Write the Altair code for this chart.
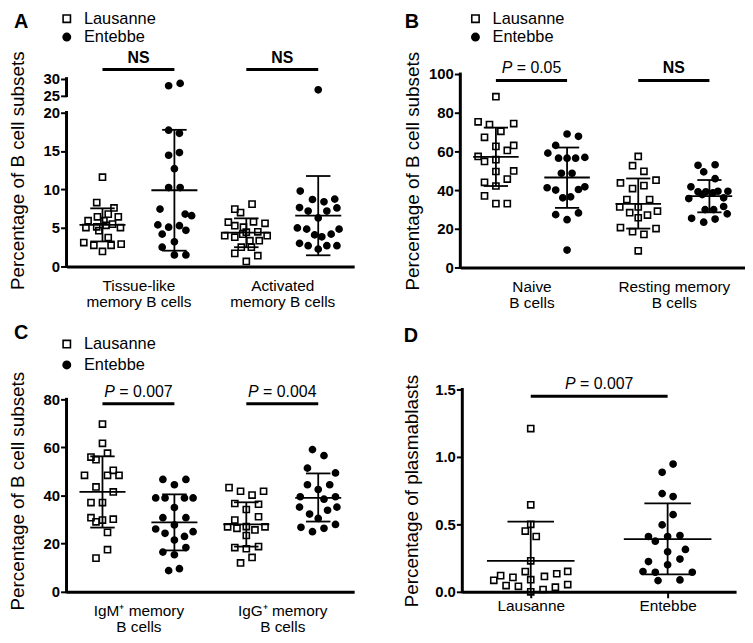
import altair as alt
import pandas as pd

FONT = "Liberation Sans"
SITES = ["Lausanne", "Entebbe"]
MEAN_HW = 0.32
CAP_HW = 0.17

# ---------------- Panel A ----------------
A_pos = [0.5, 1.5, 2.5, 3.5]
A_site = ["Lausanne", "Entebbe", "Lausanne", "Entebbe"]
A_tl_lau = [11.6, 8.3, 7.6, 6.8, 6.45, 6.45, 5.95, 5.95, 5.05, 5.15, 5.35, 5.05, 4.65, 3.75, 3.1, 2.75, 2.75, 2.9, 1.95, 5.5]
A_tl_lau_j = [0.0, -0.08, 0.16, 0.08, -0.07, 0.22, -0.2, 0.02, -0.23, -0.08, 0.05, 0.25, -0.05, 0.08, -0.26, -0.12, 0.12, 0.26, 0.0, 0.14]
A_tl_ent = [28.6, 27.9, 17.7, 17.3, 14.45, 14.8, 12.7, 10.25, 10.25, 7.45, 6.8, 6.6, 5.4, 5.1, 5.3, 4.7, 4.2, 3.2, 2.5, 1.5, 1.5]
A_tl_ent_j = [0.08, -0.08, -0.08, 0.07, -0.08, 0.07, 0.0, -0.08, 0.08, -0.2, 0.15, 0.24, -0.23, -0.08, 0.07, 0.16, -0.17, 0.0, -0.17, 0.0, 0.16]
A_ac_lau = [8.1, 7.45, 7.0, 5.75, 5.8, 5.6, 5.3, 5.1, 4.45, 4.5, 4.0, 3.8, 4.0, 4.2, 3.35, 3.35, 2.5, 2.5, 1.7, 1.4, 0.65]
A_ac_lau_j = [0.08, -0.16, -0.08, -0.25, 0.1, 0.26, -0.16, -0.04, 0.0, 0.16, -0.3, -0.16, 0.29, -0.05, 0.05, 0.18, -0.07, 0.07, -0.16, 0.16, 0.0]
A_ac_ent = [26.7, 9.8, 8.7, 8.4, 8.75, 7.65, 7.2, 7.2, 7.6, 6.3, 5.0, 4.85, 4.1, 3.85, 4.2, 4.85, 3.0, 2.7, 2.25, 2.7, 2.7]
A_ac_ent_j = [0.0, -0.25, -0.08, 0.08, 0.23, -0.26, -0.14, 0.12, 0.26, 0.0, -0.29, -0.16, -0.05, 0.05, 0.18, 0.29, -0.26, -0.14, 0.0, 0.12, 0.26]
A_mean = [5.4, 9.9, 4.4, 6.6]
A_lo = [3.25, 2.05, 2.5, 1.45]
A_hi = [7.55, 17.75, 6.25, 11.75]
A_xlab_pos = [1, 3]
A_xlab = [["Tissue-like", "memory B cells"], ["Activated", "memory B cells"]]
A_sig_from, A_sig_to, A_sig_y, A_sig_txt = [0, 2], [1, 3], [32.7, 32.7], ["NS", "NS"]
A_yticks = [0, 5, 10, 15, 20, 25, 30]
A_yseg = [(0, 20), (25, 30)]

# ---------------- Panel B ----------------
B_pos = [0.5, 1.5, 2.5, 3.5]
B_site = ["Lausanne", "Entebbe", "Lausanne", "Entebbe"]
B_nv_lau = [88.3, 75.3, 73.9, 74.4, 70.4, 67.3, 62.6, 63.1, 60.5, 57.4, 54.8, 55.7, 49.6, 49.9, 45.7, 44.0, 42.1, 37.0, 33.0, 33.0]
B_nv_lau_j = [0.0, -0.25, -0.09, 0.25, 0.07, -0.16, 0.0, 0.25, 0.16, -0.25, -0.16, 0.0, 0.0, 0.25, 0.16, -0.16, 0.0, -0.16, 0.0, 0.16]
B_nv_ent = [69.0, 67.8, 63.1, 59.1, 56.5, 56.5, 56.5, 56.9, 48.7, 48.7, 41.2, 40.0, 40.3, 41.7, 36.0, 36.5, 27.3, 28.2, 24.7, 9.0]
B_nv_ent_j = [0.0, 0.16, -0.16, -0.27, -0.12, 0.0, 0.12, 0.25, -0.08, 0.07, -0.28, -0.16, 0.16, 0.25, -0.06, 0.05, -0.16, 0.16, 0.0, 0.0]
B_rm_lau = [57.4, 52.6, 49.7, 43.7, 40.8, 42.3, 45.1, 35.1, 35.1, 31.3, 31.3, 28.3, 29.1, 25.7, 27.1, 20.6, 18.5, 17.1, 20.1, 8.6]
B_rm_lau_j = [0.0, -0.08, 0.08, -0.25, -0.08, 0.08, 0.25, -0.16, 0.16, -0.26, 0.0, -0.12, 0.27, 0.0, 0.13, -0.25, -0.08, 0.08, 0.25, 0.0]
B_rm_ent = [52.8, 53.1, 49.4, 45.9, 41.7, 39.1, 39.1, 38.6, 39.4, 39.4, 35.6, 37.7, 36.0, 29.9, 29.9, 31.5, 27.7, 25.4, 23.4, 25.0]
B_rm_ent_j = [-0.16, 0.08, -0.08, 0.08, -0.26, -0.16, -0.05, 0.05, 0.12, 0.26, -0.29, -0.1, 0.2, -0.06, 0.06, 0.2, 0.25, -0.25, -0.08, 0.08]
B_mean = [57.2, 46.5, 32.9, 36.9]
B_lo = [42.1, 30.8, 20.1, 28.5]
B_hi = [72.3, 62.0, 46.0, 45.2]
B_xlab_pos = [1, 3]
B_xlab = [["Naive", "B cells"], ["Resting memory", "B cells"]]
B_sig_from, B_sig_to, B_sig_y, B_sig_txt = [0, 2], [1, 3], [96.7, 96.7], ["P = 0.05", "NS"]
B_yticks = [0, 20, 40, 60, 80, 100]
B_yseg = [(0, 100)]

# ---------------- Panel C ----------------
C_pos = [0.5, 1.5, 2.5, 3.5]
C_site = ["Lausanne", "Entebbe", "Lausanne", "Entebbe"]
C_m_lau = [69.7, 61.7, 56.0, 54.9, 57.6, 50.5, 48.4, 48.4, 48.4, 43.6, 41.5, 37.1, 37.1, 30.8, 29.1, 29.8, 30.2, 24.7, 17.5, 14.0]
C_m_lau_j = [0.0, 0.0, -0.16, -0.09, 0.07, 0.15, 0.23, -0.25, 0.07, -0.09, 0.15, -0.16, 0.0, -0.16, -0.09, 0.0, 0.15, 0.07, 0.07, -0.09]
C_m_ent = [46.7, 44.5, 46.7, 39.0, 39.0, 39.0, 39.0, 35.0, 30.8, 30.8, 26.1, 24.3, 27.8, 23.0, 25.0, 21.5, 16.5, 15.4, 18.4, 8.8, 9.6]
C_m_ent_j = [-0.16, 0.0, 0.16, -0.26, -0.13, 0.14, 0.26, 0.0, -0.16, 0.16, -0.26, -0.13, 0.0, 0.14, 0.26, 0.0, -0.16, 0.0, 0.16, -0.08, 0.07]
C_g_lau = [43.3, 41.8, 40.2, 41.8, 36.7, 36.4, 34.2, 31.2, 29.8, 27.0, 26.4, 27.1, 25.7, 27.0, 23.4, 18.4, 17.9, 18.8, 14.3, 12.0]
C_g_lau_j = [-0.24, -0.08, 0.08, 0.24, -0.16, 0.17, 0.0, 0.17, -0.16, -0.26, -0.13, 0.0, 0.12, 0.26, 0.0, -0.16, 0.0, 0.17, 0.08, -0.08]
C_g_ent = [59.1, 56.6, 51.4, 49.4, 44.5, 42.5, 44.5, 39.5, 38.5, 39.5, 35.2, 32.3, 33.9, 35.2, 30.5, 26.8, 25.0, 26.4, 28.0]
C_g_ent_j = [-0.08, 0.08, -0.15, 0.24, -0.15, 0.0, 0.16, -0.25, 0.08, 0.24, -0.26, -0.12, 0.13, 0.26, 0.0, -0.24, -0.08, 0.08, 0.24]
C_mean = [41.5, 28.9, 28.0, 39.0]
C_lo = [26.7, 17.2, 18.8, 29.2]
C_hi = [56.3, 40.5, 37.2, 49.2]
C_xlab_pos = [1, 3]
C_xlab = [["IgM\u207a memory", "B cells"], ["IgG\u207a memory", "B cells"]]
C_sig_from, C_sig_to, C_sig_y, C_sig_txt = [0, 2], [1, 3], [78.2, 78.2], ["P = 0.007", "P = 0.004"]
C_yticks = [0, 20, 40, 60, 80]
C_yseg = [(0, 80)]

# ---------------- Panel D ----------------
D_pos = [0.5, 1.5]
D_site = ["Lausanne", "Entebbe"]
D_lau = [1.21, 0.645, 0.50, 0.45, 0.41, 0.23, 0.15, 0.09, 0.0, 0.085, 0.12, 0.046, 0.107, 0.041, 0.017, 0.114, 0.034, 0.134, 0.054, 0.151]
D_lau_j = [0.0, 0.0, 0.0, -0.04, 0.04, 0.0, -0.04, 0.0, 0.0, -0.27, -0.22, -0.18, -0.13, -0.09, 0.09, 0.1, 0.18, 0.19, 0.27, 0.27]
D_ent = [0.947, 0.886, 0.728, 0.706, 0.572, 0.496, 0.41, 0.375, 0.41, 0.417, 0.297, 0.314, 0.224, 0.2, 0.243, 0.15, 0.145, 0.145, 0.083, 0.088]
D_ent_j = [0.04, -0.04, -0.04, 0.04, 0.04, -0.04, -0.14, -0.09, 0.0, 0.09, 0.0, 0.13, -0.14, 0.0, 0.09, -0.18, -0.09, 0.18, -0.07, 0.09]
D_mean = [0.23, 0.39]
D_lo = [0.0, 0.13]
D_hi = [0.52, 0.655]
D_xlab_pos = [0.5, 1.5]
D_xlab = [["Lausanne"], ["Entebbe"]]
D_sig_from, D_sig_to, D_sig_y, D_sig_txt = [0], [1], [1.45], ["P = 0.007"]
D_yticks = [0, 0.5, 1.0, 1.5]
D_yseg = [(0, 1.5)]


def a_break(v):
    return v if v <= 20 else 22.2 + (v - 25) * 0.44


CHAR_W = {"=": 0.584, " ": 0.278, ".": 0.278}


def text_w(s, fs):
    return sum(CHAR_W.get(c, 0.556) for c in s) * fs


def js_arr(lines):
    return "[" + ",".join("'" + s + "'" for s in lines) + "]"


def x_label_expr(positions, labels):
    expr = js_arr(labels[-1])
    for i in range(len(labels) - 2, -1, -1):
        mid = (positions[i] + positions[i + 1]) / 2
        expr = f"datum.value < {mid} ? {js_arr(labels[i])} : ({expr})"
    return expr


def y_label_expr(disp, labels):
    expr = "datum.label"
    for d, l in zip(disp, labels):
        expr = f"abs(datum.value - {d}) < 0.001 ? '{l}' : ({expr})"
    return expr


def build_panel(letter, pos, sites, vals, jits, mean, lo, hi, sig_from, sig_to, sig_y, sig_txt,
                xdom, width, height, ydom, yticks, yfmt, ytitle, ytitle_pad,
                xlab_pos, xlab, xticks, xlab_pad, yseg, legend, title_dx, title_dy, tf=None):
    tf = tf or (lambda v: v)
    pts = pd.DataFrame([{"x": pos[g] + j, "y": tf(v), "site": sites[g]}
                        for g in range(len(pos)) for v, j in zip(vals[g], jits[g])])
    st = pd.DataFrame({"pos": pos, "mean": [tf(v) for v in mean],
                       "lo": [tf(v) for v in lo], "hi": [tf(v) for v in hi]})
    st["m1"] = st["pos"] - MEAN_HW
    st["m2"] = st["pos"] + MEAN_HW
    st["c1"] = st["pos"] - CAP_HW
    st["c2"] = st["pos"] + CAP_HW
    caps = pd.concat([st.assign(cy=st["lo"]), st.assign(cy=st["hi"])], ignore_index=True)
    sig = pd.DataFrame({"x1": [pos[i] for i in sig_from], "x2": [pos[i] for i in sig_to],
                        "y": [tf(v) for v in sig_y], "txt": sig_txt})
    sig["xc"] = (sig["x1"] + sig["x2"]) / 2
    seg = pd.DataFrame({"x": [xdom[0]] * len(yseg), "y1": [tf(a) for a, b in yseg],
                        "y2": [tf(b) for a, b in yseg]})

    disp = [tf(t) for t in yticks]
    labs = [yfmt.format(t) for t in yticks]

    xs = alt.Scale(domain=xdom, nice=False, zero=False)
    ys = alt.Scale(domain=ydom, nice=False, zero=False)
    xa = alt.Axis(values=xlab_pos, labelExpr=x_label_expr(xlab_pos, xlab), title=None, grid=False,
                  domain=True, domainColor="black", domainWidth=3, ticks=xticks, tickSize=6,
                  tickWidth=2, tickColor="black", labelFont=FONT, labelFontSize=15.5,
                  labelColor="black", labelPadding=xlab_pad, labelLineHeight=16, labelAngle=0,
                  labelBaseline="top", labelOverlap=False, labelFlush=False)
    ya = alt.Axis(values=disp, labelExpr=y_label_expr(disp, labs), title=ytitle, titleFont=FONT,
                  titleFontSize=19, titleFontWeight="normal", titleColor="black",
                  titlePadding=ytitle_pad, domain=False, ticks=True, tickSize=6, tickWidth=2,
                  tickColor="black", grid=False, labelFont=FONT, labelFontSize=15,
                  labelFontWeight="bold", labelColor="black", labelPadding=1,
                  labelOverlap=False, labelFlush=False)

    def X(f):
        return alt.X(f, type="quantitative", scale=xs, axis=xa)

    def Y(f):
        return alt.Y(f, type="quantitative", scale=ys, axis=ya)

    if legend is not None:
        leg = alt.Legend(orient="none", title=None, labelFont=FONT, labelFontSize=16.5,
                         labelColor="black", padding=0, labelOffset=9, symbolOpacity=1,
                         symbolSize=55, symbolStrokeWidth=1.6, **legend)
    else:
        leg = None

    layers = []
    layers.append(alt.Chart(seg).mark_rule(color="black", strokeWidth=3, strokeCap="square").encode(
        x=X("x"), y=Y("y1"), y2="y2"))
    layers.append(alt.Chart(pts).mark_point(strokeWidth=1.6, opacity=1, size=38).encode(
        x=X("x"), y=Y("y"),
        shape=alt.Shape("site:N", scale=alt.Scale(domain=SITES, range=["square", "circle"]), legend=leg),
        fill=alt.Fill("site:N", scale=alt.Scale(domain=SITES, range=["transparent", "black"]), legend=leg),
        stroke=alt.Stroke("site:N", scale=alt.Scale(domain=SITES, range=["black", "black"]), legend=leg),
    ))
    layers.append(alt.Chart(st).mark_rule(color="black", strokeWidth=1.8).encode(
        x=X("m1"), x2="m2", y=Y("mean")))
    layers.append(alt.Chart(caps).mark_rule(color="black", strokeWidth=1.8).encode(
        x=X("c1"), x2="c2", y=Y("cy")))
    layers.append(alt.Chart(st).mark_rule(color="black", strokeWidth=1.8).encode(
        x=X("pos"), y=Y("lo"), y2="hi"))
    layers.append(alt.Chart(sig).mark_rule(color="black", strokeWidth=3).encode(
        x=X("x1"), x2="x2", y=Y("y")))
    for _, r in sig.iterrows():
        one = pd.DataFrame([r])
        if r["txt"].startswith("P"):
            rest = r["txt"][1:].strip()
            total = 0.667 * 16 + text_w(" " + rest, 16)
            one["p"] = "P"
            one["rest"] = rest
            layers.append(alt.Chart(one).mark_text(font=FONT, fontSize=16, fontStyle="italic",
                                                   baseline="alphabetic", align="left",
                                                   dx=-total / 2, dy=-7, color="black").encode(
                x=X("xc"), y=Y("y"), text="p"))
            layers.append(alt.Chart(one).mark_text(font=FONT, fontSize=16, baseline="alphabetic",
                                                   align="right", dx=total / 2, dy=-7,
                                                   color="black").encode(
                x=X("xc"), y=Y("y"), text="rest"))
        else:
            layers.append(alt.Chart(one).mark_text(font=FONT, fontSize=16, fontWeight="bold",
                                                   baseline="alphabetic", align="center", dy=-7,
                                                   color="black").encode(
                x=X("xc"), y=Y("y"), text="txt"))

    return alt.layer(*layers).properties(
        width=width, height=height,
        title=alt.TitleParams(text=letter, anchor="start", frame="group", font=FONT, fontSize=20,
                              fontWeight="bold", color="black", baseline="alphabetic", offset=0,
                              dx=title_dx, dy=title_dy))


YT = "Percentage of B cell subsets"

pA = build_panel("A", A_pos, A_site, [A_tl_lau, A_tl_ent, A_ac_lau, A_ac_ent],
                 [A_tl_lau_j, A_tl_ent_j, A_ac_lau_j, A_ac_ent_j], A_mean, A_lo, A_hi,
                 A_sig_from, A_sig_to, A_sig_y, A_sig_txt,
                 [0, 4], 290, 194, [0, 25], A_yticks, "{:d}", YT, 15.5,
                 A_xlab_pos, A_xlab, False, 12, A_yseg,
                 dict(legendX=-8, legendY=-64, rowPadding=1.5), -53, 37.5, tf=a_break)
pB = build_panel("B", B_pos, B_site, [B_nv_lau, B_nv_ent, B_rm_lau, B_rm_ent],
                 [B_nv_lau_j, B_nv_ent_j, B_rm_lau_j, B_rm_ent_j], B_mean, B_lo, B_hi,
                 B_sig_from, B_sig_to, B_sig_y, B_sig_txt,
                 [0, 4], 287, 195, [0, 100], B_yticks, "{:d}", YT, 6,
                 B_xlab_pos, B_xlab, False, 12, B_yseg,
                 dict(legendX=7, legendY=-64, rowPadding=1.5), -56, 37.5)
pC = build_panel("C", C_pos, C_site, [C_m_lau, C_m_ent, C_g_lau, C_g_ent],
                 [C_m_lau_j, C_m_ent_j, C_g_lau_j, C_g_ent_j], C_mean, C_lo, C_hi,
                 C_sig_from, C_sig_to, C_sig_y, C_sig_txt,
                 [0, 4], 290, 204, [0, 84.1], C_yticks, "{:d}", YT, 15.5,
                 C_xlab_pos, C_xlab, False, 12, C_yseg,
                 dict(legendX=-8, legendY=-54, rowPadding=4), -53, 23)
pD = build_panel("D", D_pos, D_site, [D_lau, D_ent], [D_lau_j, D_ent_j], D_mean, D_lo, D_hi,
                 D_sig_from, D_sig_to, D_sig_y, D_sig_txt,
                 [0, 2], 276, 204, [0, 1.5], D_yticks, "{:.1f}", "Percentage of plasmablasts", 13,
                 D_xlab_pos, D_xlab, True, 1, D_yseg, None, -59, -13)

RES = dict(shape="independent", fill="independent", stroke="independent")
row1 = alt.hconcat(pA, pB, spacing=49).resolve_scale(**RES)
row2 = alt.hconcat(pC, pD, spacing=49).resolve_scale(**RES)
chart = alt.vconcat(row1, row2, spacing=12).resolve_scale(**RES).configure_view(
    strokeWidth=0).properties(padding=0, background="white")

chart.save("out.html", embed_options={"renderer": "svg", "actions": False})
